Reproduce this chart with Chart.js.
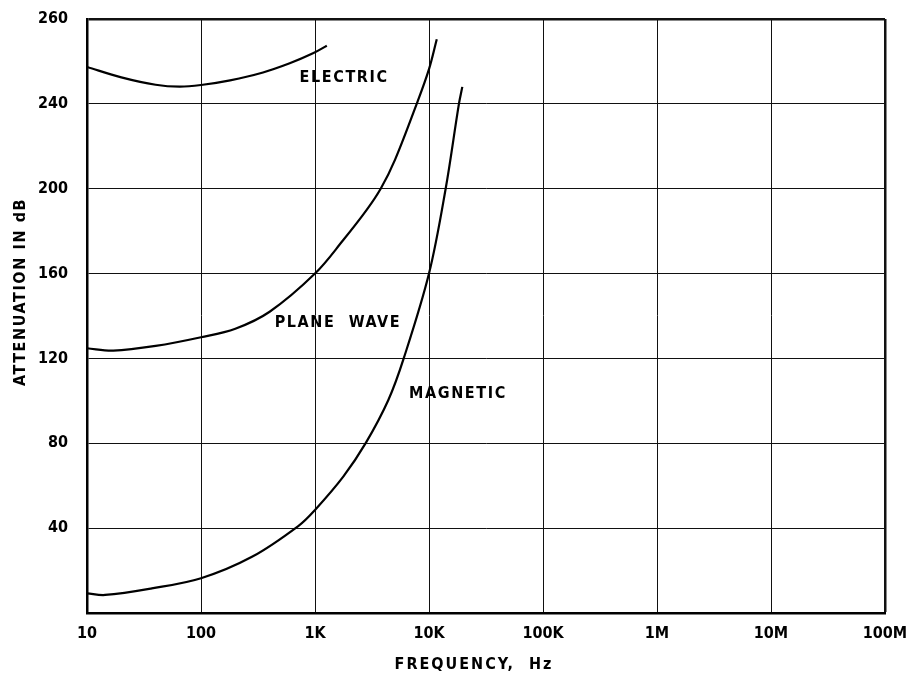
<!DOCTYPE html>
<html>
<head>
<meta charset="utf-8">
<script src="https://cdn.jsdelivr.net/npm/chart.js@4/dist/chart.umd.min.js"></script>
<style>
  html, body { margin: 0; padding: 0; background: #fff; }
  #wrap { width: 915px; height: 677px; }
</style>
</head>
<body>
<div id="wrap"><canvas id="attenuationChart"></canvas></div>
<script>
// tick values / labels
const xTickValues = [1e1, 1e2, 1e3, 1e4, 1e5, 1e6, 1e7, 1e8];
const xTickLabels = ['10', '100', '1K', '10K', '100K', '1M', '10M', '100M'];
const yTickLabels = ['', '40', '80', '120', '160', '200', '240', '260'];

// curves (Hz, dB)
const electricFreq = [10, 20, 40, 65, 100, 180, 350, 600, 960, 1270];
const electricDb = [257.4, 252.5, 249, 248.1, 248.9, 251.1, 254.8, 259.1, 263.8, 267.4];

const planeFreq = [10, 17, 40, 100, 200, 400, 1000, 1770, 2840, 3790, 5040, 7800, 10000, 11700];
const planeDb = [124.8, 123.7, 125.9, 130, 134, 142, 160, 175.8, 190, 200.2, 213.7, 240, 256.4, 270.5];

const magneticFreq = [10, 14.4, 37, 100, 280, 713, 1000, 1770, 2800, 4400, 6000, 10000, 14000, 18300, 19600];
const magneticDb = [9.3, 8.5, 11.6, 16.4, 26.5, 41, 48.6, 64.3, 80.3, 100.4, 120, 160, 200, 240, 248];

const curveNames = ['ELECTRIC', 'PLANE  WAVE', 'MAGNETIC'];

const FONT = "'DejaVu Sans Condensed', 'DejaVu Sans', sans-serif";

const toPoints = (xs, ys) => xs.map((x, i) => ({ x: x, y: ys[i] }));

const lineStyle = {
    borderColor: '#000',
    borderWidth: 2.2,
    pointRadius: 0,
    fill: false,
    tension: 0.35,
};

// text drawn on top: axis titles + curve names
const textPlugin = {
    id: 'textPlugin',
    afterDraw(chart) {
        const ctx = chart.ctx;
        const xs = chart.scales.x;
        const ys = chart.scales.y;
        ctx.save();
        ctx.fillStyle = '#000';
        ctx.font = 'bold 16px ' + FONT;
        ctx.letterSpacing = '1.6px';
        ctx.textAlign = 'center';
        ctx.textBaseline = 'middle';

        // curve names placed in data coords
        const spots = [[1800, 252.4], [1590, 137], [17950, 103.3]];
        curveNames.forEach((name, i) => {
            ctx.fillText(name, xs.getPixelForValue(spots[i][0]), ys.getPixelForValue(spots[i][1]));
        });

        // axis titles
        ctx.letterSpacing = '2px';
        ctx.fillText('FREQUENCY,  Hz', 474, 665);

        ctx.letterSpacing = '1.6px';
        ctx.translate(21, 292);
        ctx.rotate(-Math.PI / 2);
        ctx.fillText('ATTENUATION IN dB', 0, 0);
        ctx.restore();
    },
};

const renderChart = () => {
    const ctx = document.getElementById('attenuationChart').getContext('2d');

    new Chart(ctx, {
        type: 'line',
        data: {
            datasets: [
                { label: 'Electric', data: toPoints(electricFreq, electricDb), ...lineStyle },
                { label: 'Plane wave', data: toPoints(planeFreq, planeDb), ...lineStyle },
                { label: 'Magnetic', data: toPoints(magneticFreq, magneticDb), ...lineStyle },
            ],
        },
        options: {
            responsive: true,
            maintainAspectRatio: false,
            animation: false,
            layout: { padding: { top: 19, right: 30, left: 0, bottom: 0 } },
            plugins: {
                legend: { display: false },
                tooltip: { enabled: false },
            },
            scales: {
                x: {
                    type: 'logarithmic',
                    min: 10,
                    max: 1e8,
                    afterBuildTicks: (scale) => {
                        scale.ticks = xTickValues.map((v) => ({ value: v }));
                    },
                    afterFit: (scale) => {
                        scale.height = 64;
                        scale.paddingLeft = 0;
                        scale.paddingRight = 0;
                    },
                    ticks: {
                        autoSkip: false,
                        maxRotation: 0,
                        padding: 11,
                        color: '#000',
                        font: { family: FONT, size: 16, weight: 'bold' },
                        callback: (value) => {
                            const i = xTickValues.indexOf(value);
                            return i >= 0 ? xTickLabels[i] : '';
                        },
                    },
                    grid: {
                        color: '#111',
                        lineWidth: (c) => (c.tick && c.tick.value === 1e8 ? 2.5 : 1),
                        drawTicks: false,
                    },
                    border: { display: true, color: '#000', width: 2.5 },
                },
                y: {
                    min: 0,
                    max: 280,
                    afterBuildTicks: (scale) => {
                        scale.ticks = yTickLabels.map((t, i) => ({ value: i * 40 }));
                    },
                    afterFit: (scale) => {
                        scale.width = 87;
                        scale.paddingTop = 0;
                        scale.paddingBottom = 0;
                    },
                    ticks: {
                        padding: 19,
                        color: '#000',
                        font: { family: FONT, size: 16, weight: 'bold' },
                        callback: (value) => yTickLabels[Math.round(value / 40)],
                    },
                    grid: {
                        color: '#111',
                        lineWidth: (c) => (c.tick && c.tick.value === 280 ? 2.5 : 1),
                        drawTicks: false,
                    },
                    border: { display: true, color: '#000', width: 2.5 },
                },
            },
        },
        plugins: [textPlugin],
    });
};

window.addEventListener('load', renderChart);
</script>
</body>
</html>
